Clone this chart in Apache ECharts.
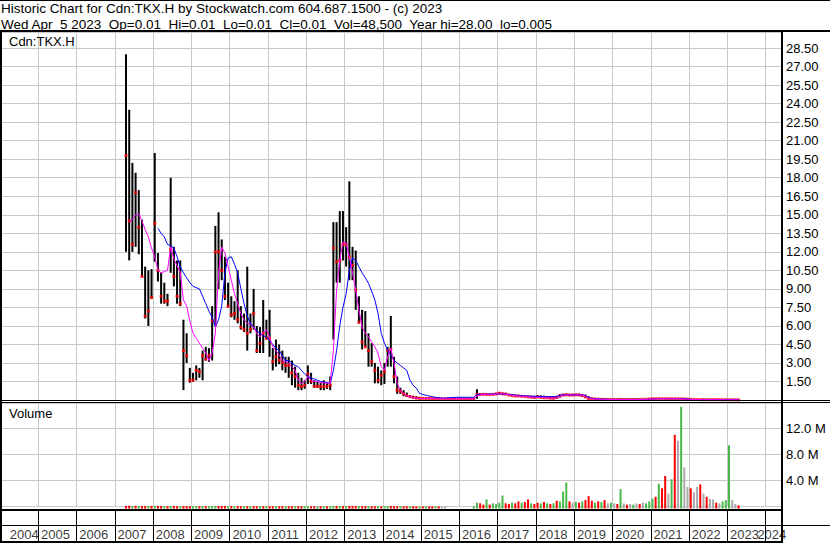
<!DOCTYPE html>
<html>
<head>
<meta charset="utf-8">
<title>Historic Chart for Cdn:TKX.H</title>
<script src="https://cdn.jsdelivr.net/npm/echarts@6/dist/echarts.min.js"></script>
<style>
  html, body { margin: 0; padding: 0; background: #fff; }
  #chart { width: 830px; height: 543px; }
</style>
</head>
<body>
<div id="chart"></div>
<script>
const FONT = '"Liberation Sans", Arial, Helvetica, sans-serif';

// year labels of the bottom strip
const yearLabels = [2004, 2005, 2006, 2007, 2008, 2009, 2010, 2011, 2012, 2013, 2014,
  2015, 2016, 2017, 2018, 2019, 2020, 2021, 2022, 2023, 2024];

// monthly bars, first one is Apr 2007, last one Apr 2023
const START_YEAR = 2007;
const START_MONTH = 4;

const priceHigh = [
  28.0, 23.5, 19.2, 18.4, 17.0, 14.6, 10.8, 10.5, 10.6,
  20.0, 11.9, 10.3, 9.5, 8.6, 18.0, 12.4, 11.3, 11.3, 6.5, 5.4, 2.6,
  2.2, 2.8, 2.6, 4.0, 4.3, 4.2, 7.6, 14.1, 15.2, 13.0, 11.6, 9.5,
  8.4, 8.0, 10.5, 7.6, 7.0, 10.8, 7.0, 9.0, 6.0, 5.9, 8.1, 6.5,
  7.3, 4.2, 4.9, 4.5, 4.0, 3.5, 3.5, 3.2, 2.7, 2.2, 1.8, 1.6,
  2.8, 2.2, 1.6, 1.5, 1.4, 1.6, 1.4, 1.9, 14.4, 14.4, 15.3, 15.3,
  14.0, 17.7, 12.4, 12.1, 8.4, 7.3, 7.2, 5.4, 4.6, 3.0, 2.7, 2.4,
  3.0, 4.3, 6.8, 3.5, 1.9, 1.0, 0.8, 0.6, 0.4, 0.35, 0.3, 0.25,
  0.2, 0.2, 0.2, 0.18, 0.18, 0.17, 0.17, 0.16, 0.16, 0.16, 0.15, 0.15,
  0.14, 0.14, 0.13, 0.13, 0.12, 0.87, 0.55, 0.52, 0.5, 0.5, 0.52, 0.55,
  0.65, 0.6, 0.58, 0.5, 0.45, 0.42, 0.4, 0.38, 0.38, 0.36, 0.35, 0.35,
  0.4, 0.38, 0.35, 0.32, 0.3, 0.3, 0.32, 0.45, 0.5, 0.52, 0.5, 0.5,
  0.5, 0.52, 0.48, 0.45, 0.3, 0.2, 0.15, 0.12, 0.1, 0.1, 0.08, 0.08,
  0.08, 0.07, 0.08, 0.07, 0.07, 0.08, 0.07, 0.07, 0.08, 0.08, 0.09, 0.12,
  0.15, 0.16, 0.16, 0.15, 0.16, 0.15, 0.14, 0.15, 0.16, 0.14, 0.12, 0.1,
  0.08, 0.07, 0.06, 0.06, 0.05, 0.05, 0.05, 0.05, 0.04, 0.04, 0.04, 0.04,
  0.04, 0.03, 0.03, 0.01
];

const priceLow = [
  12.0, 11.3, 12.0, 12.4, 11.8, 10.0, 6.6, 6.0, 8.2,
  11.2, 9.6, 7.8, 7.8, 7.6, 10.3, 9.2, 7.8, 7.6, 0.8, 3.0, 1.4,
  1.5, 1.6, 1.8, 1.6, 3.2, 3.1, 3.2, 6.0, 9.0, 9.7, 8.1, 7.5,
  6.7, 6.5, 6.2, 5.7, 5.5, 4.0, 5.4, 5.7, 3.8, 3.8, 3.8, 4.9,
  3.5, 2.4, 2.7, 2.9, 2.4, 2.2, 1.8, 1.2, 1.0, 0.8, 0.8, 0.9,
  1.3, 1.3, 1.0, 1.0, 0.8, 0.8, 0.9, 0.8, 4.9, 9.5, 9.5, 11.3,
  10.8, 9.7, 9.7, 7.3, 6.2, 4.1, 4.3, 2.7, 2.7, 1.35, 1.35, 1.2,
  1.3, 2.7, 2.7, 1.35, 0.5, 0.5, 0.3, 0.25, 0.2, 0.15, 0.12, 0.1,
  0.1, 0.1, 0.09, 0.09, 0.08, 0.08, 0.08, 0.07, 0.07, 0.07, 0.07, 0.07,
  0.07, 0.07, 0.07, 0.07, 0.07, 0.1, 0.38, 0.4, 0.4, 0.4, 0.4, 0.4,
  0.45, 0.45, 0.42, 0.38, 0.32, 0.3, 0.3, 0.27, 0.25, 0.22, 0.2, 0.18,
  0.2, 0.18, 0.15, 0.15, 0.12, 0.12, 0.14, 0.2, 0.3, 0.35, 0.35, 0.32,
  0.35, 0.35, 0.3, 0.2, 0.1, 0.08, 0.05, 0.05, 0.04, 0.03, 0.03, 0.03,
  0.03, 0.03, 0.03, 0.03, 0.03, 0.03, 0.03, 0.03, 0.03, 0.03, 0.03, 0.03,
  0.05, 0.06, 0.07, 0.07, 0.07, 0.07, 0.06, 0.06, 0.06, 0.06, 0.05, 0.04,
  0.03, 0.03, 0.02, 0.02, 0.02, 0.02, 0.02, 0.02, 0.02, 0.02, 0.02, 0.02,
  0.01, 0.01, 0.01, 0.005
];

const priceClose = [
  19.8, 14.5, 12.6, 16.8, 14.0, 10.0, 6.8, 7.2, 8.3,
  14.3, 10.5, 8.4, 8.0, 8.0, 12.2, 10.0, 8.4, 7.8, 4.0, 3.6, 1.6,
  1.6, 2.4, 2.3, 3.6, 3.3, 3.6, 6.4, 12.0, 12.0, 10.5, 8.4, 7.6,
  6.9, 7.0, 6.5, 5.9, 5.7, 5.4, 5.7, 7.0, 4.0, 4.6, 5.4, 5.0,
  5.0, 3.1, 3.5, 3.2, 3.0, 2.8, 2.8, 2.2, 1.9, 1.2, 1.1, 1.2,
  2.1, 1.5, 1.1, 1.1, 1.1, 1.1, 1.1, 1.2, 12.3, 11.2, 11.3, 12.6,
  12.6, 11.6, 10.9, 8.9, 6.3, 4.7, 4.3, 4.0, 3.1, 2.4, 1.6, 2.0,
  2.3, 4.0, 4.1, 1.9, 0.8, 0.7, 0.5, 0.35, 0.27, 0.2, 0.15, 0.13,
  0.13, 0.12, 0.12, 0.12, 0.11, 0.11, 0.1, 0.1, 0.1, 0.1, 0.1, 0.1,
  0.1, 0.1, 0.1, 0.1, 0.1, 0.45, 0.45, 0.46, 0.45, 0.44, 0.45, 0.5,
  0.55, 0.5, 0.48, 0.4, 0.35, 0.32, 0.32, 0.3, 0.28, 0.25, 0.22, 0.2,
  0.25, 0.2, 0.18, 0.18, 0.15, 0.14, 0.2, 0.35, 0.4, 0.42, 0.4, 0.4,
  0.42, 0.4, 0.35, 0.25, 0.12, 0.1, 0.08, 0.06, 0.05, 0.05, 0.04, 0.04,
  0.04, 0.04, 0.05, 0.04, 0.04, 0.05, 0.04, 0.04, 0.05, 0.05, 0.06, 0.08,
  0.1, 0.1, 0.11, 0.1, 0.1, 0.1, 0.1, 0.1, 0.1, 0.09, 0.08, 0.06,
  0.05, 0.04, 0.04, 0.03, 0.03, 0.03, 0.03, 0.03, 0.03, 0.03, 0.02, 0.02,
  0.02, 0.02, 0.01, 0.01
];

// short moving average (magenta)
const avgShort = [
  null, 14.4, 14.6, 15.0, 15.1, 14.5, 13.8, 13.2, 12.3,
  11.6, 10.5, 10.3, 10.4, 10.5, 12.4, 11.4, 10.9, 10.3, 8.1, 7.6, 6.4,
  5.4, 5.0, 4.6, 4.2, 3.8, 3.2, 3.8, 5.4, 10.3, 12.4, 11.9, 10.8,
  9.7, 8.6, 7.8, 7.0, 6.5, 6.2, 6.1, 5.9, 5.4, 5.1, 5.5, 5.7,
  5.1, 4.3, 4.0, 3.6, 3.2, 3.1, 3.0, 2.7, 2.4, 1.6, 1.35, 1.5,
  1.9, 1.6, 1.5, 1.5, 1.4, 1.4, 1.35, 1.35, 4.0, 8.9, 11.3, 12.8,
  12.7, 11.6, 10.3, 8.9, 7.3, 5.9, 5.4, 5.1, 4.7, 4.3, 3.8, 2.7,
  2.4, 3.5, 4.2, 3.0, 1.35, 0.8, 0.5, 0.35, 0.27, 0.2, 0.15, 0.13,
  0.12, 0.12, 0.12, 0.11, 0.11, 0.1, 0.1, 0.1, 0.1, 0.1, 0.1, 0.1,
  0.1, 0.1, 0.1, 0.1, 0.1, 0.3, 0.42, 0.45, 0.45, 0.44, 0.45, 0.48,
  0.52, 0.52, 0.48, 0.42, 0.37, 0.34, 0.32, 0.3, 0.28, 0.26, 0.23, 0.21,
  0.22, 0.21, 0.19, 0.18, 0.16, 0.15, 0.17, 0.28, 0.38, 0.41, 0.41, 0.4,
  0.41, 0.41, 0.37, 0.29, 0.17, 0.11, 0.08, 0.06, 0.05, 0.05, 0.04, 0.04,
  0.04, 0.04, 0.04, 0.04, 0.04, 0.04, 0.04, 0.04, 0.04, 0.05, 0.05, 0.06,
  0.08, 0.09, 0.1, 0.1, 0.1, 0.1, 0.1, 0.1, 0.1, 0.09, 0.08, 0.07,
  0.05, 0.04, 0.04, 0.03, 0.03, 0.03, 0.03, 0.03, 0.03, 0.03, 0.03, 0.02,
  0.02, 0.02, 0.02, 0.02
];

// long moving average (blue)
const avgLong = [
  null, null, null, null, null, null, null, null, null,
  null, 13.9, 13.5, 13.2, 12.6, 12.5, 12.3, 11.6, 10.8, 10.3, 9.9, 9.5,
  9.2, 9.1, 9.0, 8.4, 7.8, 7.2, 6.7, 5.9, 6.5, 7.6, 10.3, 11.5,
  11.6, 11.0, 10.3, 9.0, 7.8, 6.8, 6.2, 5.9, 5.6, 5.4, 5.2, 5.1,
  4.8, 4.5, 4.2, 4.0, 3.6, 3.2, 3.2, 3.0, 2.8, 2.7, 2.4, 2.1,
  1.9, 1.8, 1.7, 1.6, 1.5, 1.45, 1.4, 1.35, 2.4, 4.0, 6.0, 7.5,
  8.6, 10.5, 11.5, 11.3, 10.8, 10.3, 9.9, 9.45, 8.8, 8.1, 7.0, 5.4,
  4.6, 4.05, 3.6, 3.2, 3.0, 2.8, 2.6, 2.4, 1.6, 1.2, 0.95, 0.54,
  0.45, 0.38, 0.32, 0.27, 0.22, 0.18, 0.15, 0.15, 0.18, 0.2, 0.21, 0.22,
  0.22, 0.22, 0.22, 0.22, 0.22, 0.46, 0.46, 0.47, 0.47, 0.48, 0.48, 0.49,
  0.49, 0.49, 0.47, 0.45, 0.42, 0.4, 0.38, 0.35, 0.33, 0.32, 0.3, 0.3,
  0.29, 0.28, 0.27, 0.27, 0.27, 0.27, 0.3, 0.38, 0.42, 0.43, 0.43, 0.42,
  0.42, 0.42, 0.4, 0.35, 0.22, 0.12, 0.1, 0.08, 0.07, 0.06, 0.06, 0.05,
  0.05, 0.05, 0.05, 0.05, 0.05, 0.05, 0.05, 0.05, 0.05, 0.05, 0.05, 0.05,
  0.08, 0.1, 0.11, 0.11, 0.11, 0.11, 0.11, 0.11, 0.11, 0.11, 0.11, 0.1,
  0.05, 0.04, 0.04, 0.04, 0.03, 0.03, 0.03, 0.03, 0.03, 0.03, 0.03, 0.03,
  0.03, 0.03, 0.03, 0.03
];

// volume in millions of shares
const volume = [
  0.1, 0.15, 0.1, 0.12, 0.1, 0.08, 0.1, 0.12, 0.1,
  0.1, 0.1, 0.08, 0.08, 0.06, 0.1, 0.08, 0.06, 0.06, 0.08, 0.06, 0.05,
  0.05, 0.06, 0.05, 0.08, 0.06, 0.06, 0.1, 0.12, 0.1, 0.08, 0.08, 0.06,
  0.06, 0.05, 0.06, 0.05, 0.05, 0.06, 0.05, 0.05, 0.05, 0.06, 0.05, 0.05,
  0.05, 0.05, 0.05, 0.04, 0.04, 0.05, 0.04, 0.05, 0.05, 0.05, 0.04, 0.04,
  0.05, 0.04, 0.04, 0.04, 0.04, 0.04, 0.04, 0.05, 0.1, 0.1, 0.08, 0.08,
  0.08, 0.1, 0.08, 0.08, 0.06, 0.06, 0.06, 0.05, 0.05, 0.05, 0.05, 0.04,
  0.05, 0.08, 0.1, 0.06, 0.05, 0.05, 0.04, 0.04, 0.04, 0.04, 0.03, 0.03,
  0.03, 0.03, 0.03, 0.03, 0.03, 0.03, 0.03, 0.02, 0, 0, 0, 0,
  0, 0, 0, 0, 0.05, 0.6, 0.5, 0.3, 1.1, 0.3, 0.5, 0.4,
  0.6, 1.7, 0.5, 0.4, 0.6, 0.5, 0.8, 0.6, 0.7, 1.1, 0.5, 0.4,
  0.6, 0.5, 0.7, 0.5, 0.4, 0.5, 0.9, 0.8, 2.3, 3.7, 0.8, 0.6,
  0.7, 0.6, 0.8, 1.0, 1.6, 0.9, 0.6, 0.8, 0.7, 1.0, 0.5, 0.6,
  0.5, 0.4, 2.7, 0.5, 0.3, 0.4, 0.3, 0.5, 0.4, 0.6, 0.5, 0.8,
  1.2, 1.5, 3.5, 2.8, 4.7, 2.0, 4.2, 11.0, 10.1, 15.3, 6.0, 3.0,
  2.8, 2.2, 3.0, 3.4, 2.0, 1.5, 1.2, 1.1, 0.6, 0.5, 0.8, 1.0,
  9.4, 1.0, 0.4, 0.2
];

// 1 = up (green), -1 = down (red), 0 = unchanged (grey)
const volDir = [
  -1, -1, 1, -1, 1, -1, -1, 1, -1,
  1, -1, -1, 1, -1, 1, -1, -1, 1, -1, -1, -1,
  1, 1, -1, 1, -1, 1, 1, 1, -1, -1, -1, 1,
  -1, 1, -1, -1, 1, -1, 1, -1, -1, 1, -1, 1,
  -1, -1, 1, -1, -1, 1, -1, -1, 1, -1, -1, 1,
  1, -1, -1, 1, -1, 1, -1, 1, 1, -1, 1, -1,
  1, -1, -1, -1, 1, -1, -1, 1, -1, -1, 1, -1,
  1, 1, -1, -1, -1, 1, -1, -1, 1, -1, -1, 1,
  -1, 1, -1, -1, 1, -1, 0, 0, 0, 0, 0, 0,
  0, 0, 0, 0, 1, 1, -1, -1, 1, -1, 1, 1,
  1, 1, -1, -1, 1, -1, -1, 1, -1, -1, 1, -1,
  -1, 1, -1, 1, -1, 1, -1, 1, 1, 1, -1, 0,
  1, -1, 1, -1, -1, -1, 1, -1, 1, -1, 0, 1,
  0, -1, 1, 0, -1, 0, 1, 0, -1, 0, 1, 1,
  1, -1, 1, -1, -1, 0, 1, -1, 0, 1, 0, 0,
  -1, 0, 0, -1, 0, -1, 0, 0, -1, 0, 1, 1,
  1, 0, 0, -1
];

[priceLow, priceClose, avgShort, avgLong, volume, volDir].forEach((arr, k) => {
  if (arr.length !== priceHigh.length) throw new Error('length mismatch in array ' + k + ': ' + arr.length);
});

// centre of month i on the year axis
function monthPos(i) {
  const m = START_MONTH - 1 + i;
  return START_YEAR + (m + 0.5) / 12;
}

const rangeData = priceHigh.map((h, i) => [monthPos(i), h, priceLow[i]]);
const closeData = priceClose.map((c, i) => [monthPos(i), c]);
const shortData = avgShort.map((v, i) => [monthPos(i), v]).filter(d => d[1] != null);
const longData = avgLong.map((v, i) => [monthPos(i), v]).filter(d => d[1] != null);
const volData = volume.map((v, i) => [monthPos(i), v, volDir[i]]);
const volColors = { '1': '#4cb84c', '-1': '#ff0000', '0': '#aaaaaa' };

const yearData = yearLabels.map((y, i) => {
  let dx = -2;
  if (i === 0) dx = 5;
  if (i === yearLabels.length - 1) dx = -13;
  return { value: [y + 0.5, 0.22], label: { offset: [dx, 0] } };
});

const X_MIN = 2004;
const X_MAX = 2024.4;
const GRID_LEFT = -12.6;
const GRID_RIGHT = 49;

function yearAxis(gridIndex, lineColor) {
  return {
    type: 'value', gridIndex: gridIndex, min: X_MIN, max: X_MAX, interval: 1,
    axisLine: { show: false }, axisTick: { show: false }, axisLabel: { show: false },
    splitLine: { show: true, lineStyle: { color: lineColor, width: 1 } }
  };
}

function hLine(x1, x2, y, w) {
  return { type: 'line', z: 100, silent: true, shape: { x1: x1, y1: y, x2: x2, y2: y }, style: { stroke: '#000', lineWidth: w } };
}
function vLine(x, y1, y2, w) {
  return { type: 'line', z: 100, silent: true, shape: { x1: x, y1: y1, x2: x, y2: y2 }, style: { stroke: '#000', lineWidth: w } };
}
function label(text, x, y, size) {
  return {
    type: 'text', z: 100, silent: true,
    style: { text: text, x: x, y: y, fill: '#000', font: size + 'px ' + FONT,
      align: 'left', verticalAlign: 'middle', textAlign: 'left', textVerticalAlign: 'middle' }
  };
}

const chart = echarts.init(document.getElementById('chart'), null, { renderer: 'svg' });

const option = {
  animation: false,
  backgroundColor: '#fff',
  textStyle: { fontFamily: FONT },
  grid: [
    { left: GRID_LEFT, right: GRID_RIGHT, top: 32, height: 368 },
    { left: GRID_LEFT, right: GRID_RIGHT, top: 403, height: 103.6 },
    { left: GRID_LEFT, right: GRID_RIGHT, top: 510, height: 32 }
  ],
  xAxis: [
    yearAxis(0, '#c8c8c8'),
    yearAxis(1, '#c8c8c8'),
    yearAxis(2, '#000')
  ],
  yAxis: [
    {
      type: 'value', gridIndex: 0, position: 'right', min: 0, max: 29.8, interval: 1.5,
      axisLine: { show: false }, axisTick: { show: false },
      axisLabel: { color: '#000', fontSize: 13, fontFamily: FONT, margin: 5,
        showMinLabel: false, showMaxLabel: false, formatter: v => v.toFixed(2) },
      splitLine: { lineStyle: { color: '#c8c8c8', width: 1 } }
    },
    {
      type: 'value', gridIndex: 1, position: 'right', min: 0, max: 15.88, interval: 4,
      axisLine: { show: false }, axisTick: { show: false },
      axisLabel: { color: '#000', fontSize: 13, fontFamily: FONT, margin: 5,
        showMinLabel: false, showMaxLabel: false, formatter: v => v.toFixed(1) + ' M' },
      splitLine: { lineStyle: { color: '#c8c8c8', width: 1 } }
    },
    { type: 'value', gridIndex: 2, min: 0, max: 1, show: false }
  ],
  series: [
    {
      name: 'Range', type: 'custom', xAxisIndex: 0, yAxisIndex: 0, z: 2, clip: true,
      data: rangeData,
      encode: { x: 0, y: [1, 2] },
      renderItem: (params, api) => {
        const x = api.value(0);
        const hi = api.coord([x, api.value(1)]);
        const lo = api.coord([x, api.value(2)]);
        return {
          type: 'rect',
          shape: { x: hi[0] - 1, y: hi[1], width: 2, height: Math.max(1, lo[1] - hi[1]) },
          style: { fill: '#000' }
        };
      }
    },
    {
      name: 'Close', type: 'scatter', xAxisIndex: 0, yAxisIndex: 0, z: 3,
      symbol: 'rect', symbolSize: 3, itemStyle: { color: '#ff0000' },
      data: closeData
    },
    {
      name: 'Long average', type: 'line', xAxisIndex: 0, yAxisIndex: 0, z: 4,
      showSymbol: false, lineStyle: { color: '#0000ff', width: 1 }, itemStyle: { color: '#0000ff' },
      data: longData
    },
    {
      name: 'Short average', type: 'line', xAxisIndex: 0, yAxisIndex: 0, z: 5,
      showSymbol: false, lineStyle: { color: '#ff00ff', width: 1 }, itemStyle: { color: '#ff00ff' },
      data: shortData
    },
    {
      name: 'Volume', type: 'custom', xAxisIndex: 1, yAxisIndex: 1, z: 2,
      data: volData,
      encode: { x: 0, y: 1 },
      renderItem: (params, api) => {
        const v = api.value(1);
        if (!(v > 0)) return null;
        const top = api.coord([api.value(0), v]);
        const cs = params.coordSys;
        return {
          type: 'rect',
          shape: { x: top[0] - 1, y: top[1], width: 2, height: cs.y + cs.height - top[1] + 2 },
          style: { fill: volColors[String(api.value(2))] }
        };
      }
    },
    {
      name: 'Years', type: 'scatter', xAxisIndex: 2, yAxisIndex: 2, z: 5, silent: true, clip: false,
      symbolSize: 1, itemStyle: { color: 'rgba(0,0,0,0)' },
      label: { show: true, position: 'inside', color: '#000', fontSize: 13, fontFamily: FONT,
        formatter: p => String(yearLabels[p.dataIndex]) },
      data: yearData
    }
  ],
  graphic: [
    hLine(0, 830, 0.5, 1),
    hLine(0, 830, 31, 2),
    hLine(0, 830, 400.5, 1),
    hLine(0, 830, 402.5, 1),
    hLine(0, 783, 510, 2),
    hLine(0, 830, 525.5, 1),
    hLine(0, 783, 542, 2),
    vLine(1, 31, 543, 2),
    vLine(782, 31, 543, 2),
    label('Historic Chart for Cdn:TKX.H by Stockwatch.com 604.687.1500 - (c) 2023', 1, 8.5, 13.5),
    label('Wed Apr\u00a0 5 2023\u00a0 Op=0.01\u00a0 Hi=0.01\u00a0 Lo=0.01\u00a0 Cl=0.01\u00a0 Vol=48,500\u00a0 Year hi=28.00\u00a0 lo=0.005', 1, 24.5, 13.5),
    label('Cdn:TKX.H', 9, 41, 13),
    label('Volume', 9, 413, 13)
  ]
};

chart.setOption(option);
</script>
</body>
</html>
